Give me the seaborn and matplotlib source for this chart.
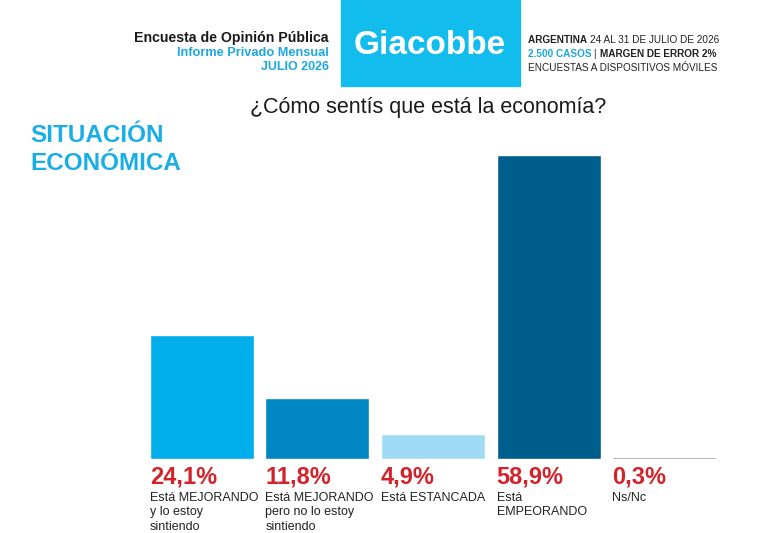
import matplotlib
matplotlib.use("Agg")
import matplotlib.pyplot as plt
from matplotlib.patches import Rectangle
import seaborn as sns
import pandas as pd

# data
categorias = ["Está MEJORANDO\ny lo estoy\nsintiendo",
              "Está MEJORANDO\npero no lo estoy\nsintiendo",
              "Está ESTANCADA",
              "Está\nEMPEORANDO",
              "Ns/Nc"]
valores = [24.1, 11.8, 4.9, 58.9, 0.3]
etiquetas = ["24,1%", "11,8%", "4,9%", "58,9%", "0,3%"]
colores = ["#00AEEC", "#0087C4", "#A0DBF5", "#005E8C", "#7E8A97"]

sns.set_theme(style="white")
plt.rcParams["font.family"] = ["Liberation Sans", "DejaVu Sans"]

fig = plt.figure(figsize=(7.6, 5.33), dpi=100)
ax = fig.add_axes([144 / 760, 74 / 533, 578 / 760, 304 / 533])

df = pd.DataFrame({"cat": categorias, "valor": valores})
sns.barplot(data=df, x="cat", y="valor", hue="cat", palette=colores,
            legend=False, width=0.9, saturation=1, ax=ax)
ax.set_xlim(-0.5, 4.5)
ax.set_ylim(0, 58.9)
ax.axis("off")

for i, (lab, cat) in enumerate(zip(etiquetas, categorias)):
    ax.annotate(lab, xy=(i - 0.45, 0), xytext=(0, -5), textcoords="offset points",
                ha="left", va="top", fontsize=17, fontweight="bold",
                color="#D2232A")
    ax.annotate(cat, xy=(i - 0.45, 0), xytext=(0, -23.5), textcoords="offset points",
                ha="left", va="top", fontsize=9, color="#222222",
                linespacing=1.28)

# cabecera
fig.patches.append(Rectangle((341 / 760, 1 - 86 / 533), 179 / 760, 86 / 533,
                             transform=fig.transFigure, color="#12BDEE", zorder=0))
fig.text(430 / 760, 1 - 46 / 533, "Giacobbe", ha="center", va="center",
         fontsize=24, fontweight="bold", color="white")

fig.text(329 / 760, 1 - 38 / 533, "Encuesta de Opinión Pública", ha="right", va="center",
         fontsize=10.2, fontweight="bold", color="#1A1A1A")
fig.text(329 / 760, 1 - 53 / 533, "Informe Privado Mensual", ha="right", va="center",
         fontsize=9.2, fontweight="bold", color="#1AA8E0")
fig.text(329 / 760, 1 - 67 / 533, "JULIO 2026", ha="right", va="center",
         fontsize=9, fontweight="bold", color="#1AA8E0")

# lineas de la derecha, cada tramo sigue al anterior
renderer = fig.canvas.get_renderer()
lineas = [
    (40, [("ARGENTINA ", "bold", "#222222"), ("24 AL 31 DE JULIO DE 2026", "normal", "#222222")]),
    (54, [("2.500 CASOS ", "bold", "#1AA8E0"), ("| ", "normal", "#222222"),
          ("MARGEN DE ERROR 2%", "bold", "#222222")]),
    (68, [("ENCUESTAS A DISPOSITIVOS MÓVILES", "normal", "#222222")]),
]
for y, tramos in lineas:
    x = 528
    for txt, peso, col in tramos:
        t = fig.text(x / 760, 1 - y / 533, txt, ha="left", va="center",
                     fontsize=7.2, fontweight=peso, color=col)
        x += t.get_window_extent(renderer).width

# titulos
fig.text(428 / 760, 1 - 107 / 533, "¿Cómo sentís que está la economía?", ha="center",
         va="center", fontsize=15.5, color="#1A1A1A")
fig.text(30 / 760, 1 - 135 / 533, "SITUACIÓN", ha="left", va="center",
         fontsize=17.5, fontweight="bold", color="#1AAEE8")
fig.text(30 / 760, 1 - 163 / 533, "ECONÓMICA", ha="left", va="center",
         fontsize=17.5, fontweight="bold", color="#1AAEE8")

fig.savefig("out.png", dpi=100, facecolor="white")
